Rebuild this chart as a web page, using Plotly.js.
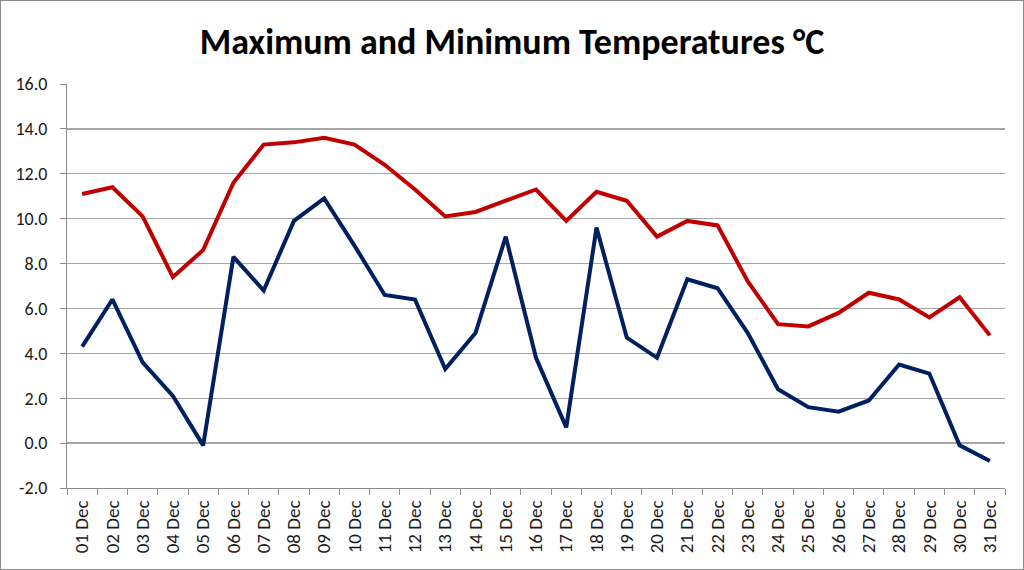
<!DOCTYPE html>
<html>
<head>
<meta charset="utf-8">
<script src="https://cdn.plot.ly/plotly-3.0.1.min.js"></script>
<style>
html,body{margin:0;padding:0;background:#fff;}
#wrap{position:relative;width:1024px;height:570px;}
#chart{width:1024px;height:570px;}
#frame{position:absolute;left:0;top:0;width:1022px;height:568px;border:1px solid #8c8c8c;pointer-events:none;}
</style>
</head>
<body>
<div id="wrap"><div id="chart"></div><div id="frame"></div></div>
<script>
const days = ["01 Dec","02 Dec","03 Dec","04 Dec","05 Dec","06 Dec","07 Dec","08 Dec","09 Dec","10 Dec",
  "11 Dec","12 Dec","13 Dec","14 Dec","15 Dec","16 Dec","17 Dec","18 Dec","19 Dec","20 Dec",
  "21 Dec","22 Dec","23 Dec","24 Dec","25 Dec","26 Dec","27 Dec","28 Dec","29 Dec","30 Dec","31 Dec"];
const maxTemp = [11.1,11.4,10.1,7.4,8.6,11.6,13.3,13.4,13.6,13.3,
  12.4,11.3,10.1,10.3,10.8,11.3,9.9,11.2,10.8,9.2,
  9.9,9.7,7.2,5.3,5.2,5.8,6.7,6.4,5.6,6.5,4.8];
const minTemp = [4.3,6.4,3.6,2.1,-0.1,8.3,6.8,9.9,10.9,8.8,
  6.6,6.4,3.3,4.9,9.2,3.8,0.7,9.6,4.7,3.8,
  7.3,6.9,4.9,2.4,1.6,1.4,1.9,3.5,3.1,-0.1,-0.8];
const yTicks = [-2,0,2,4,6,8,10,12,14,16];

const FONT = "Carlito, 'Liberation Sans Narrow', 'Liberation Sans', sans-serif";

const traces = [
  {x: days, y: maxTemp, type: 'scatter', mode: 'lines', name: 'Maximum',
   line: {color: '#C00000', width: 4}},
  {x: days, y: minTemp, type: 'scatter', mode: 'lines', name: 'Minimum',
   line: {color: '#002060', width: 4}}
];

const layout = {
  width: 1024, height: 570,
  margin: {l: 67, r: 19, t: 84, b: 82},
  paper_bgcolor: '#fff', plot_bgcolor: '#fff',
  showlegend: false,
  title: {text: '<b>Maximum and Minimum Temperatures °C</b>', x: 0.5, xanchor: 'center',
          y: 0.927, yanchor: 'middle',
          font: {family: FONT, size: 36, color: '#000'}},
  xaxis: {
    type: 'category', range: [-0.5, 30.5],
    tickson: 'boundaries', ticks: 'outside', ticklen: 6, tickcolor: '#8c8c8c', tickwidth: 1,
    showgrid: false, showline: true, linecolor: '#8c8c8c', linewidth: 1,
    tickangle: -90, tickfont: {family: FONT, size: 19, color: '#1a1a1a'},
    ticklabelstandoff: 4,
    zeroline: false, fixedrange: true
  },
  yaxis: {
    range: [-2, 16], tickvals: yTicks, ticktext: yTicks.map(v => v.toFixed(1)),
    ticks: 'outside', ticklen: 6, tickcolor: '#8c8c8c', tickwidth: 1,
    showgrid: true, gridcolor: '#a6a6a6', gridwidth: 1.3,
    showline: true, linecolor: '#8c8c8c', linewidth: 1,
    zeroline: false, tickfont: {family: FONT, size: 18, color: '#1a1a1a'},
    ticklabelstandoff: 9,
    fixedrange: true
  }
};

Plotly.newPlot('chart', traces, layout, {displayModeBar: false, staticPlot: true});
</script>
</body>
</html>
